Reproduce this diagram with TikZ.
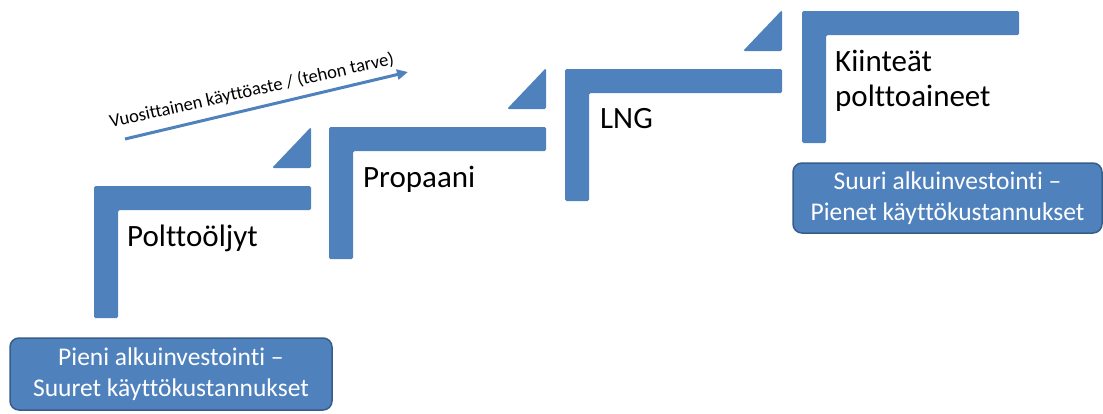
\documentclass[tikz,border=0pt]{standalone}
\usepackage{fontspec}
\setmainfont{Carlito}[Ligatures=NoCommon]
\usetikzlibrary{arrows.meta}
\definecolor{stepblue}{HTML}{4F81BD}
\definecolor{edgeblue}{HTML}{385D8A}
\begin{document}
\begin{tikzpicture}[x=1pt,y=-1pt,
  stepbar/.style={fill=stepblue, rounded corners=1.5pt},
  steplabel/.style={anchor=base west, inner sep=0pt, font=\fontsize{31}{35}\selectfont, align=left},
  costbox/.style={draw=edgeblue, line width=1.5pt, fill=stepblue, rounded corners=9pt, text=white,
    font=\fontsize{25.5}{31}\selectfont, align=center, inner sep=0pt},
  trend/.style={draw=stepblue, line width=3pt, -{Triangle[length=11pt,width=10pt]}},
  trendtext/.style={font=\fontsize{18.5}{20}\selectfont, anchor=base, inner sep=0pt, rotate=12.6}]
\useasboundingbox (0,0) rectangle (1103,413);
% stair steps
\foreach \x/\y in {94/186, 329/127, 565/69, 802/11} {
  \fill[stepbar] (\x,\y) -- ++(217,0) -- ++(0,24) -- ++(-193,0) -- ++(0,108) -- ++(-24,0) -- cycle;
}
% small triangles
\foreach \x/\y in {94/186, 329/127, 565/69} {
  \fill[stepbar] (\x+178,\y-18) -- (\x+217,\y-18) -- (\x+217,\y-59) -- cycle;
}
% labels
\node[steplabel] (oil) at (127,246) {Polttoöljyt};
\node[steplabel] (propane) at (363,187) {Propaani};
\node[steplabel] (lng) at (600,128) {LNG};
\node[steplabel] (solid) at (835,106) {Kiinteät\\polttoaineet};
% cost boxes
\node[costbox, minimum width=322pt, minimum height=72pt] (lowinv) at (171,374) {Pieni alkuinvestointi –\\Suuret käyttökustannukset};
\node[costbox, minimum width=309pt, minimum height=70pt] (highinv) at (947.5,198) {Suuri alkuinvestointi –\\Pienet käyttökustannukset};
% trend arrow
\coordinate (tstart) at (125,139);
\coordinate (tend) at (408,72);
\draw[trend] (tstart) -- (tend);
\node[trendtext] (trendlabel) at (253,96) {Vuosittainen käyttöaste / (tehon tarve)};
\end{tikzpicture}
\end{document}
